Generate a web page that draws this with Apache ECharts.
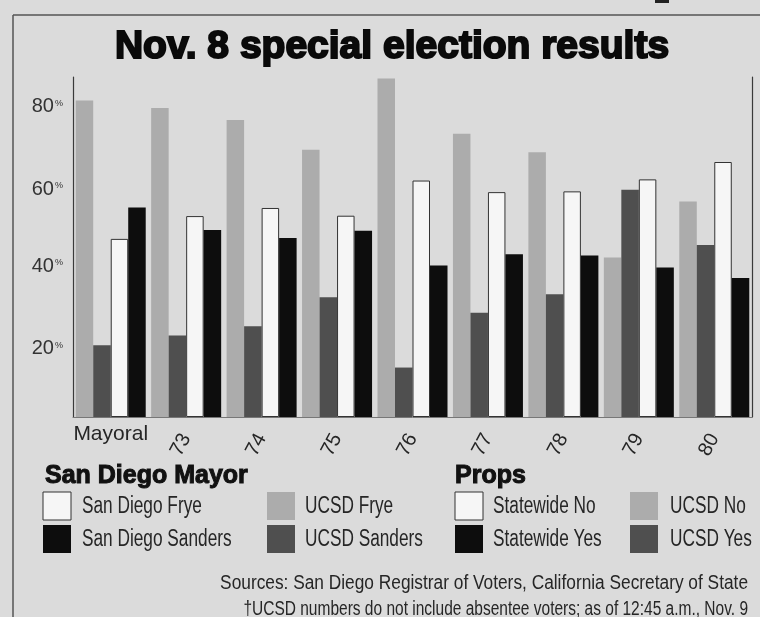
<!DOCTYPE html>
<html><head><meta charset="utf-8">
<script src="https://cdn.jsdelivr.net/npm/echarts@6/dist/echarts.min.js"></script>
<style>html,body{margin:0;padding:0;background:#dbdbdb;} #c{width:760px;height:617px;}</style>
</head><body><div id="c"></div>
<script>
// ---- data ----
const categories = ['Mayoral', '73', '74', '75', '76', '77', '78', '79', '80'];
const ucsdFryeOrNo = [81.9, 80.0, 76.9, 69.2, 87.6, 73.3, 68.5, 41.3, 55.8];
const ucsdSandersOrYes = [18.6, 21.1, 23.5, 31.0, 12.8, 27.0, 31.8, 58.8, 44.5];
const sdFryeOrStatewideNo = [46.1, 52.0, 54.1, 52.1, 61.2, 58.2, 58.4, 61.5, 66.0];
const sdSandersOrStatewideYes = [54.2, 48.4, 46.3, 48.2, 39.2, 42.1, 41.8, 38.7, 36.0];
const yTickLabels = [20, 40, 60, 80];
const titleText = 'Nov. 8 special election results';
const mayorLegend = ['San Diego Frye', 'San Diego Sanders', 'UCSD Frye', 'UCSD Sanders'];
const propsLegend = ['Statewide No', 'Statewide Yes', 'UCSD No', 'UCSD Yes'];
const sourceLines = [
  'Sources: San Diego Registrar of Voters, California Secretary of State',
  '\u2020UCSD numbers do not include absentee voters; as of 12:45 a.m., Nov. 9'
];

// ---- styles ----
const BG = '#dbdbdb';
const C_LIGHT = '#acacac', C_DARK = '#4f4f4f', C_WHITE = '#f6f6f6', C_BLACK = '#0d0d0d';
const FONT = "'Liberation Sans', Arial, sans-serif";
const TXT = '#262626';

const chart = echarts.init(document.getElementById('c'), null, {renderer: 'canvas'});

const labelShift = {20: 9, 40: 4, 60: 4, 80: -1};
const rich = {};
yTickLabels.forEach(v => {
  const d = labelShift[v];
  const pad = d >= 0 ? [2 * d, 0, 0, 0] : [0, 0, -2 * d, 0];
  rich['n' + v] = {fontSize: 20, color: '#333', fontFamily: FONT, padding: pad};
  rich['p' + v] = {fontSize: 9, color: '#333', fontFamily: FONT, padding: [pad[0], 0, pad[2] + 7, 1]};
});

const barBase = {type: 'bar', barWidth: 17.5, barGap: '0%'};

function condText(x, y, text, size, align, sx) {
  return {type: 'text', x: x, y: y, scaleX: sx, scaleY: 1,
    style: {text: text, fontSize: size, fontFamily: FONT, fill: TXT, align: align, verticalAlign: 'middle'}};
}
function boldText(x, y, text, size) {
  return {type: 'text', x: x, y: y,
    style: {text: text, fontSize: size, fontWeight: 'bold', fontFamily: FONT, fill: '#111',
      stroke: '#111', lineWidth: 1, align: 'left', verticalAlign: 'middle'}};
}
function box(x, y, fill, stroke) {
  return {type: 'rect', shape: {x: x, y: y, width: 28, height: 28},
    style: {fill: fill, stroke: stroke || null, lineWidth: 1}};
}

const legendCols = [43, 267, 455, 630];
const legendRowsY = [492, 525];
const graphics = [
  // frame
  {type: 'line', shape: {x1: 13, y1: 15, x2: 760, y2: 15}, style: {stroke: '#555', lineWidth: 1.5}},
  {type: 'line', shape: {x1: 13, y1: 15, x2: 13, y2: 617}, style: {stroke: '#555', lineWidth: 1.5}},
  {type: 'rect', shape: {x: 655, y: 0, width: 14, height: 3}, style: {fill: '#222'}},
  // title
  {type: 'text', x: 392, y: 47,
    style: {text: titleText, fontSize: 39, fontWeight: 'bold', fontFamily: FONT, fill: '#0a0a0a',
      stroke: '#0a0a0a', lineWidth: 2, align: 'center', verticalAlign: 'middle'}},
  boldText(45, 476, 'San Diego Mayor', 25),
  boldText(455, 476, 'Props', 25),
  // legend boxes
  box(legendCols[0], legendRowsY[0], C_WHITE, '#333'),
  box(legendCols[0], legendRowsY[1], C_BLACK),
  box(legendCols[1], legendRowsY[0], C_LIGHT),
  box(legendCols[1], legendRowsY[1], C_DARK),
  box(legendCols[2], legendRowsY[0], C_WHITE, '#333'),
  box(legendCols[2], legendRowsY[1], C_BLACK),
  box(legendCols[3], legendRowsY[0], C_LIGHT),
  box(legendCols[3], legendRowsY[1], C_DARK),
  condText(82, 507, mayorLegend[0], 23, 'left', 0.75),
  condText(82, 540, mayorLegend[1], 23, 'left', 0.75),
  condText(305, 507, mayorLegend[2], 23, 'left', 0.75),
  condText(305, 540, mayorLegend[3], 23, 'left', 0.75),
  condText(493, 507, propsLegend[0], 23, 'left', 0.75),
  condText(493, 540, propsLegend[1], 23, 'left', 0.75),
  condText(670, 507, propsLegend[2], 23, 'left', 0.75),
  condText(670, 540, propsLegend[3], 23, 'left', 0.75),
  condText(748, 583, sourceLines[0], 20, 'right', 0.865),
  condText(748, 609, sourceLines[1], 20, 'right', 0.775)
];

const option = {
  backgroundColor: BG,
  animation: false,
  grid: {left: 73, right: 8, top: 77, bottom: 200, containLabel: false},
  xAxis: [
    {type: 'category', data: categories, position: 'bottom',
      axisLine: {show: true, lineStyle: {color: '#777', width: 1}},
      axisTick: {show: false},
      axisLabel: {interval: 0, margin: 7, fontSize: 21, fontFamily: FONT, color: TXT,
        formatter: v => (v === categories[0] ? v : '')}},
    {type: 'category', data: categories, position: 'bottom',
      axisLine: {show: false}, axisTick: {show: false}, splitLine: {show: false},
      axisLabel: {interval: 0, margin: 18, rotate: 62, fontSize: 20, fontFamily: FONT, color: TXT,
        formatter: v => (v === categories[0] ? '' : v)}}
  ],
  yAxis: [
    {type: 'value', min: 0, max: 88, interval: 20, position: 'left',
      axisLine: {show: true, lineStyle: {color: '#3a3a3a', width: 1.2}},
      axisTick: {show: false}, splitLine: {show: false},
      axisLabel: {margin: 10, showMaxLabel: false, rich: rich,
        formatter: v => (yTickLabels.indexOf(v) >= 0 ? '{n' + v + '|' + v + '}{p' + v + '|%}' : '')}},
    {type: 'value', min: 0, max: 88, interval: 20, position: 'right',
      axisLine: {show: true, lineStyle: {color: '#3a3a3a', width: 1.2}},
      axisTick: {show: false}, splitLine: {show: false}, axisLabel: {show: false}}
  ],
  series: [
    Object.assign({}, barBase, {name: 'UCSD Frye / UCSD No', data: ucsdFryeOrNo, itemStyle: {color: C_LIGHT}}),
    Object.assign({}, barBase, {name: 'UCSD Sanders / UCSD Yes', data: ucsdSandersOrYes, itemStyle: {color: C_DARK}}),
    Object.assign({}, barBase, {name: 'San Diego Frye / Statewide No', data: sdFryeOrStatewideNo,
      itemStyle: {color: C_WHITE, borderColor: '#333', borderWidth: 1}}),
    Object.assign({}, barBase, {name: 'San Diego Sanders / Statewide Yes', data: sdSandersOrStatewideYes, itemStyle: {color: C_BLACK}})
  ],
  graphic: graphics
};
chart.setOption(option);
</script>
</body></html>
